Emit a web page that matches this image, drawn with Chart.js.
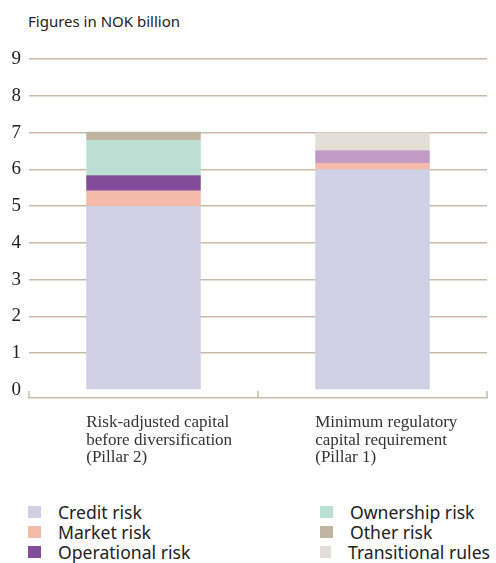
<!DOCTYPE html>
<html>
<head>
<meta charset="utf-8">
<script src="https://cdn.jsdelivr.net/npm/chart.js@4/dist/chart.umd.min.js"></script>
<style>
  html,body{margin:0;padding:0;background:#fff;width:496px;height:563px;overflow:hidden;}
  #title{position:absolute;left:28px;top:11px;font:15px "Noto Sans",sans-serif;color:#222;}
  #wrap{position:absolute;left:0;top:0;width:496px;height:480px;}
  #legend{position:absolute;left:28px;top:502px;width:470px;display:grid;grid-template-columns:292px 170px;grid-auto-flow:column;grid-template-rows:repeat(3,20px);
    font:17.6px "Noto Sans",sans-serif;color:#222;}
  .li{display:flex;align-items:center;white-space:nowrap;}
  .sw{width:13px;height:12px;margin-right:17px;}
</style>
</head>
<body>
<div id="title">Figures in NOK billion</div>
<div id="wrap"><canvas id="ch"></canvas></div>
<div id="legend"></div>
<script>
// categories (multi-line)
const CATEGORIES = [
  ['Risk-adjusted capital','before diversification','(Pillar 2)'],
  ['Minimum regulatory','capital requirement','(Pillar 1)']
];
const Y_TICKS = [0,1,2,3,4,5,6,7,8,9];

// series values, NOK billion
const CREDIT       = [5.00, 6.00];
const MARKET       = [0.42, 0.17];
const OPERATIONAL  = [0.42, 0.35];
const OWNERSHIP    = [0.96, 0];
const OTHER        = [0.22, 0];
const TRANSITIONAL = [0, 0.48];

const GRID = '#c8bba9';

const SERIES = [
  {label:'Credit risk',       data:CREDIT,       color:'#cfd0e4'},
  {label:'Market risk',       data:MARKET,       color:'#f4baaa'},
  {label:'Operational risk',  data:OPERATIONAL,  color:['#834c9a','#c29ac6']},
  {label:'Ownership risk',    data:OWNERSHIP,    color:'#bde0d5'},
  {label:'Other risk',        data:OTHER,        color:'#c0b4a3'},
  {label:'Transitional rules',data:TRANSITIONAL, color:'#e3dfd7'}
];

// x labels left aligned under bar + small upward ticks on the x axis
const catLabels = {
  id:'catLabels',
  afterDraw(chart){
    const ctx = chart.ctx, xs = chart.scales.x, area = chart.chartArea;
    const meta = chart.getDatasetMeta(0);
    ctx.save();
    // ticks
    ctx.strokeStyle = GRID; ctx.lineWidth = 1.5;
    const half = (xs.getPixelForValue(1) - xs.getPixelForValue(0))/2;
    const bounds = [xs.getPixelForValue(0)-half];
    CATEGORIES.forEach((c,i)=> bounds.push(xs.getPixelForValue(i)+half));
    bounds.forEach(b=>{ ctx.beginPath(); ctx.moveTo(b, area.bottom); ctx.lineTo(b, area.bottom-7); ctx.stroke(); });
    // labels
    ctx.fillStyle = '#333'; ctx.font = '17px "Liberation Serif", serif';
    ctx.textAlign = 'left'; ctx.textBaseline = 'alphabetic';
    CATEGORIES.forEach((lines,i)=>{
      const bar = meta.data[i]; const x0 = bar.x - bar.width/2;
      lines.forEach((t,k)=> ctx.fillText(t, x0, area.bottom + 29 + k*17.5));
    });
    ctx.restore();
  }
};

new Chart(document.getElementById('ch'), {
  type:'bar',
  data:{
    labels: CATEGORIES.map(c=>c.join(' ')),
    datasets: SERIES.map(s=>({label:s.label, data:s.data, backgroundColor:s.color,
      borderWidth:0, barPercentage:1, categoryPercentage:0.5}))
  },
  options:{
    responsive:true, maintainAspectRatio:false, animation:false,
    layout:{padding:{top:59, right:9, bottom:82, left:0}},
    plugins:{legend:{display:false}, tooltip:{enabled:false}},
    scales:{
      x:{stacked:true, offset:true,
        grid:{display:false, drawTicks:false},
        border:{display:true, color:GRID, width:1.5},
        ticks:{display:false},
        afterFit:s=>{ s.height = 0; }},
      y:{stacked:true, min:-0.22, max:9,
        afterBuildTicks:s=>{ s.ticks = Y_TICKS.map(v=>({value:v})); },
        afterFit:s=>{ s.width = 29; },
        grid:{drawTicks:false, lineWidth:1.5,
          color:c=> c.tick && c.tick.value===0 ? 'rgba(0,0,0,0)' : GRID},
        border:{display:false},
        ticks:{padding:8, color:'#222', font:{family:'"Liberation Serif", serif', size:19}}}
    }
  },
  plugins:[catLabels]
});

// legend, two columns
const lg = document.getElementById('legend');
SERIES.forEach(s=>{
  const col = Array.isArray(s.color) ? s.color[0] : s.color;
  lg.insertAdjacentHTML('beforeend', `<div class="li"><span class="sw" style="background:${col}"></span>${s.label}</div>`);
});
</script>
</body>
</html>
